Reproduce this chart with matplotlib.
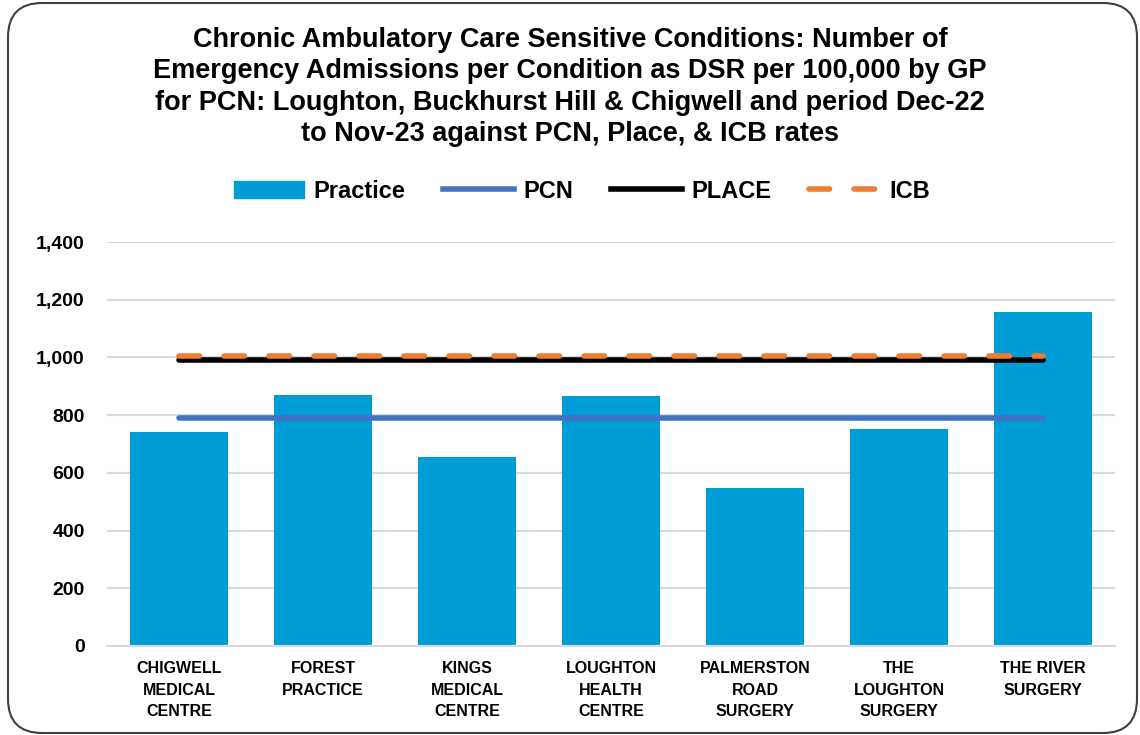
import numpy as np
import matplotlib.pyplot as plt
from matplotlib.patches import FancyBboxPatch
from matplotlib.lines import Line2D
from matplotlib.patches import Patch

practices = ["CHIGWELL\nMEDICAL\nCENTRE", "FOREST\nPRACTICE", "KINGS\nMEDICAL\nCENTRE",
             "LOUGHTON\nHEALTH\nCENTRE", "PALMERSTON\nROAD\nSURGERY", "THE\nLOUGHTON\nSURGERY",
             "THE RIVER\nSURGERY"]
practice_rate = [741, 870, 655, 866, 547, 752, 1157]
pcn_rate = 789
place_rate = 992
icb_rate = 1005

titulo = ("Chronic Ambulatory Care Sensitive Conditions: Number of\n"
          "Emergency Admissions per Condition as DSR per 100,000 by GP\n"
          "for PCN: Loughton, Buckhurst Hill & Chigwell and period Dec-22\n"
          "to Nov-23 against PCN, Place, & ICB rates")

plt.rcParams['font.family'] = ['Liberation Sans', 'DejaVu Sans']

fig = plt.figure(figsize=(11.4, 7.35), dpi=100)
ax = fig.add_axes([107/1140, 1 - 646/735, (1115 - 107)/1140, (646 - 242)/735])

x = np.arange(len(practices))
ax.bar(x, practice_rate, width=0.68, color='#009CD6', zorder=2)
n = len(practices)
icb_dash = (0, (3.7, 4.4))
ax.plot([0, n - 1], [pcn_rate] * 2, color='#4472C4', linewidth=4, solid_capstyle='round', zorder=3)
ax.plot([0, n - 1], [place_rate] * 2, color='black', linewidth=4, solid_capstyle='round', zorder=3)
ax.plot([0, n - 1], [icb_rate] * 2, color='#ED7D31', linewidth=4, linestyle=icb_dash,
        dash_capstyle='round', zorder=4)

ax.set_xlim(-0.5, n - 0.5)
ax.set_ylim(0, 1400)
ax.set_yticks(np.arange(0, 1401, 200))
ax.set_yticklabels([f"{v:,}" for v in range(0, 1401, 200)], fontsize=14, fontweight='bold')
ax.set_xticks(x)
ax.set_xticklabels(practices, fontsize=11.5, fontweight='bold', linespacing=1.55)
ax.tick_params(axis='y', length=0, pad=16)
ax.tick_params(axis='x', length=0, pad=11)
ax.grid(axis='y', color='#D9D9D9', linewidth=1.5, zorder=0)
for s in ['top', 'right', 'left']:
    ax.spines[s].set_visible(False)
ax.spines['bottom'].set_color('#D9D9D9')
ax.spines['bottom'].set_linewidth(1.5)

fig.text(0.5, 1 - 87/735, titulo, ha='center', va='center', fontsize=19.5, fontweight='bold',
         linespacing=1.27)

handles = [Patch(color='#009CD6'),
           Line2D([], [], color='#4472C4', linewidth=4),
           Line2D([], [], color='black', linewidth=4),
           Line2D([], [], color='#ED7D31', linewidth=4, linestyle=icb_dash, dash_capstyle='round')]
leg = fig.legend(handles, ['Practice', 'PCN', 'PLACE', 'ICB'], loc='center',
                 bbox_to_anchor=(582/1140, 1 - 191/735), ncol=4, frameon=False,
                 prop={'size': 17, 'weight': 'bold'}, handlelength=3.0, columnspacing=1.6,
                 handletextpad=0.4)

borde = FancyBboxPatch((8/1140, 2/735), 1129/1140, 730/735, boxstyle="round,pad=0,rounding_size=0.03",
                       transform=fig.transFigure, facecolor='none', edgecolor='#404040',
                       linewidth=1.5, mutation_aspect=1140/735)
fig.patches.append(borde)

fig.savefig('out.png', dpi=100)
